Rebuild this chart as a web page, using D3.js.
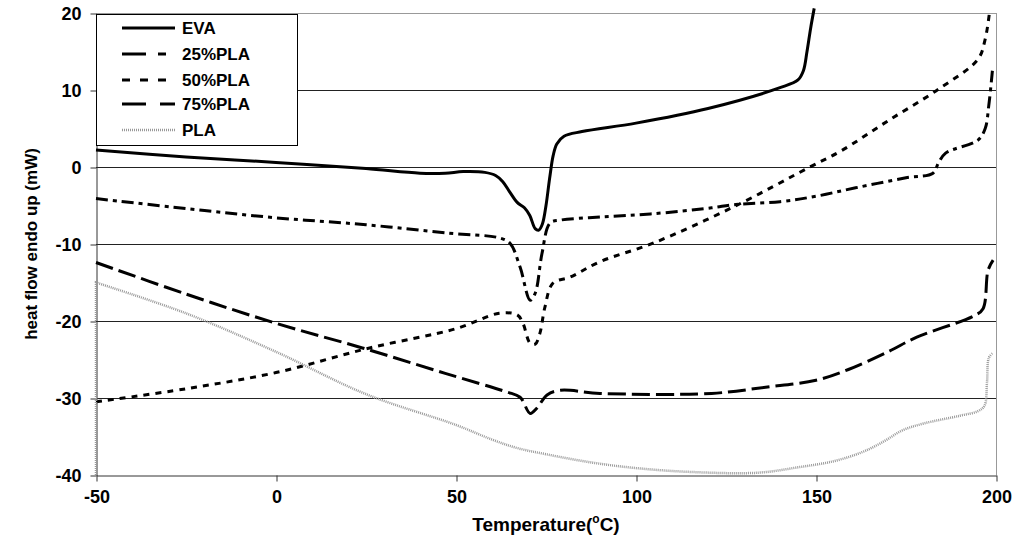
<!DOCTYPE html>
<html>
<head>
<meta charset="utf-8">
<script src="https://cdn.jsdelivr.net/npm/d3@7"></script>
<style>
  body { margin: 0; background: #fff; }
  text { font-family: "Liberation Sans", Arial, sans-serif; font-weight: bold; fill: #000; }
</style>
</head>
<body>
<div id="chart"></div>
<script>
// DSC curves: [temperature °C, heat flow mW]
const eva = [[-50,2.2],[-25,1.3],[0,0.6],[25,-0.2],[40,-0.8],[47,-0.8],[52,-0.6],[58,-0.7],[61,-1.1],
  [63,-1.9],[65,-3.3],[67,-4.6],[69,-5.3],[70.5,-6.3],[72,-8],[73,-8.2],[74,-7.4],[75,-5],[76,-1.5],
  [77,1.5],[78,3],[80,4],[85,4.6],[100,5.7],[120,7.6],[140,10.3],[145,11.3],[146.5,12.5],[147.5,15],
  [148.5,18],[149.5,20.6]];
const pla25 = [[-50,-4.1],[-25,-5.4],[0,-6.6],[25,-7.5],[48,-8.6],[62,-9.2],[65,-9.9],[67.8,-13],
  [70.6,-17.3],[72,-16.4],[73.9,-11.2],[76.1,-7.3],[79,-6.9],[90,-6.5],[104,-6.1],[121,-5.3],[127,-4.9],
  [140,-4.5],[150,-3.8],[161,-2.7],[175,-1.4],[182.5,-0.8],[184,0.5],[186,1.8],[195,3.5],[197,5],
  [198,8],[199,12.5]];
const pla50 = [[-50,-30.5],[-25,-28.8],[0,-26.7],[26,-23.5],[50,-21],[62,-19],[67,-19.2],[68.6,-20.3],
  [70.6,-22.9],[72,-23],[73.3,-21.6],[74.7,-18.2],[76.9,-15.1],[81.7,-14.3],[90,-12.3],[104.7,-9.9],
  [127,-5.2],[148.3,0],[157,2.1],[170,6],[184,10.1],[195,14],[197,16.6],[198.3,20.5]];
const pla75 = [[-50,-12.4],[-25,-16.5],[0,-20.3],[24,-23.5],[47,-26.8],[64,-29.2],[67.8,-29.9],
  [70.6,-32],[72.5,-31.3],[75.3,-29.6],[79,-29],[90,-29.4],[121,-29.4],[136,-28.6],[150,-27.7],
  [159,-26.3],[170,-24],[178,-22.1],[194,-19.3],[196.4,-18.4],[197.8,-13.4],[199.2,-12.1]];
const pla = [[-50,-40],[-50,-15],[-25,-19],[0,-24],[25,-29.5],[50,-33.5],[60,-35.4],[67,-36.5],
  [75,-37.3],[88,-38.4],[100,-39.1],[115,-39.6],[134,-39.7],[145,-39],[155,-38.2],[163,-37],
  [169,-35.6],[174,-34.2],[180,-33.3],[190,-32.3],[195,-31.7],[196.8,-31],[197.5,-28],[198,-24.8],
  [199,-24.2]];

const seriesNames = ['EVA', '25%PLA', '50%PLA', '75%PLA', 'PLA'];
const xTicks = [-50, 0, 50, 100, 150, 200];
const yTicks = [-40, -30, -20, -10, 0, 10, 20];

const W = 1021, H = 550;
const margin = { top: 13, right: 25, bottom: 75, left: 96 };

const svg = d3.select('#chart').append('svg')
  .attr('width', W).attr('height', H);

const x = d3.scaleLinear().domain([-50, 200]).range([margin.left, W - margin.right]);
const y = d3.scaleLinear().domain([-40, 20]).range([H - margin.bottom, margin.top]);

// horizontal gridlines
svg.append('g')
  .attr('shape-rendering', 'crispEdges')
  .selectAll('line')
  .data(yTicks.filter(d => d > -40))
  .join('line')
  .attr('x1', x(-50)).attr('x2', x(200))
  .attr('y1', d => y(d) + 0.5).attr('y2', d => y(d) + 0.5)
  .attr('stroke', d => d === 20 ? '#999' : '#222')
  .attr('stroke-width', 1);

// right border
svg.append('line')
  .attr('shape-rendering', 'crispEdges')
  .attr('x1', x(200) + 0.5).attr('x2', x(200) + 0.5)
  .attr('y1', y(20)).attr('y2', y(-40))
  .attr('stroke', '#999');

// axes
const fmt = d => String(d);
const xAxis = svg.append('g')
  .attr('transform', `translate(0.5,${y(-40) + 0.5})`)
  .call(d3.axisBottom(x).tickValues(xTicks).tickFormat(fmt).tickSize(6).tickSizeOuter(0).tickPadding(9));
const yAxis = svg.append('g')
  .attr('transform', `translate(${x(-50) + 0.5},0.5)`)
  .call(d3.axisLeft(y).tickValues(yTicks).tickFormat(fmt).tickSize(6).tickSizeOuter(0).tickPadding(9));
[xAxis, yAxis].forEach(a => {
  a.selectAll('path, line').attr('stroke', '#333');
  a.selectAll('text').style('font-size', '18px').attr('fill', '#000');
});

// curves
const smooth = d3.line().x(d => x(d[0])).y(d => y(d[1])).curve(d3.curveCatmullRom.alpha(0.5));
const straight = d3.line().x(d => x(d[0])).y(d => y(d[1]));
// PLA starts with a vertical jump at -50 °C, kept straight so the spline does not overshoot
const plaPath = pts => straight(pts.slice(0, 2)) + smooth(pts.slice(1)).replace(/^M/, 'L');

const styles = [
  { data: eva, dash: null, color: '#000', width: 3, legendDash: null, path: smooth },
  { data: pla25, dash: '12,5,4,5', color: '#000', width: 3, legendDash: '24,12,8,10', path: smooth },
  { data: pla50, dash: '6,6', color: '#000', width: 3, legendDash: '8,10', path: smooth },
  { data: pla75, dash: '18,6', color: '#000', width: 3, legendDash: '24,14', path: smooth },
  { data: pla, dash: '1,1', color: '#999', width: 2.5, legendDash: '1,1', path: plaPath }
];

svg.append('g')
  .selectAll('path')
  .data(styles)
  .join('path')
  .attr('d', d => d.path(d.data))
  .attr('fill', 'none')
  .attr('stroke', d => d.color)
  .attr('stroke-width', d => d.width)
  .attr('stroke-dasharray', d => d.dash);

// legend
const legend = svg.append('g');
legend.append('rect')
  .attr('x', 96.5).attr('y', 14.5).attr('width', 201).attr('height', 131)
  .attr('fill', '#fff').attr('stroke', '#000');
const rows = [28, 54, 80, 104, 130];
styles.forEach((s, i) => {
  legend.append('line')
    .attr('x1', 122).attr('x2', 175)
    .attr('y1', rows[i]).attr('y2', rows[i])
    .attr('stroke', s.color)
    .attr('stroke-width', s.width)
    .attr('stroke-dasharray', s.legendDash);
  legend.append('text')
    .attr('x', 182).attr('y', rows[i] + 6)
    .style('font-size', '17px')
    .text(seriesNames[i]);
});

// axis titles
const xt = svg.append('text')
  .attr('x', (x(-50) + x(200)) / 2).attr('y', 531)
  .attr('text-anchor', 'middle')
  .style('font-size', '19px');
xt.append('tspan').text('Temperature(');
xt.append('tspan').attr('dy', -8).style('font-size', '12px').text('o');
xt.append('tspan').attr('dy', 8).text('C)');

svg.append('text')
  .attr('transform', `translate(37,${(y(-40) + y(20)) / 2}) rotate(-90)`)
  .attr('text-anchor', 'middle')
  .style('font-size', '17px')
  .text('heat flow endo up (mW)');
</script>
</body>
</html>
